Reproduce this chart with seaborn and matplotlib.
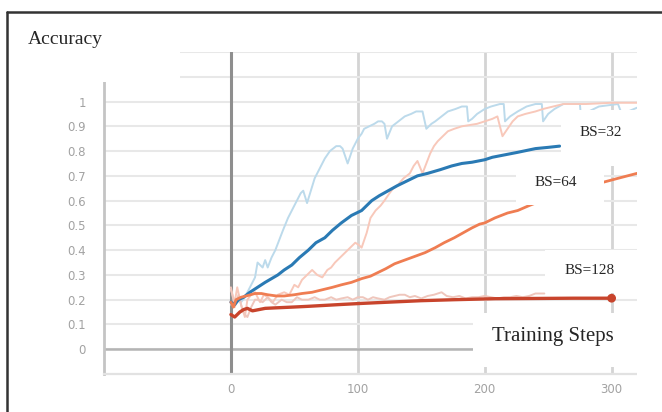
import numpy as np
import seaborn as sns
import matplotlib.pyplot as plt
from matplotlib.patches import Rectangle
from matplotlib.lines import Line2D

# Data (training step, accuracy)
raw32_steps = [0, 4, 8, 11, 15, 19, 21, 25, 27, 29, 32, 35, 38, 41, 45, 48, 52, 55, 57, 60,
               63, 66, 70, 74, 78, 83, 86, 88, 92, 96, 100, 103, 105, 109, 113, 116, 119, 121,
               123, 127, 132, 137, 142, 146, 151, 154, 158, 161, 166, 171, 177, 182, 186, 187,
               190, 194, 200, 205, 212, 215, 216, 220, 226, 233, 240, 245, 246, 250, 255, 262,
               275, 276, 282, 290, 305, 308, 313, 320]
raw32_vals = [0.18, 0.20, 0.19, 0.21, 0.25, 0.29, 0.35, 0.33, 0.36, 0.33, 0.37, 0.40, 0.44,
              0.48, 0.53, 0.56, 0.60, 0.63, 0.64, 0.59, 0.64, 0.69, 0.73, 0.77, 0.80, 0.82,
              0.82, 0.81, 0.75, 0.81, 0.85, 0.87, 0.89, 0.90, 0.91, 0.92, 0.92, 0.91, 0.85,
              0.90, 0.92, 0.94, 0.95, 0.96, 0.96, 0.89, 0.91, 0.92, 0.94, 0.96, 0.97, 0.98,
              0.98, 0.92, 0.93, 0.95, 0.97, 0.98, 0.99, 0.99, 0.92, 0.94, 0.96, 0.98, 0.99,
              0.99, 0.92, 0.95, 0.97, 0.99, 0.99, 0.93, 0.96, 0.98, 0.99, 0.95, 0.96, 0.975]

raw64_steps = [0, 3, 5, 8, 11, 13, 16, 19, 23, 26, 29, 33, 37, 42, 46, 50, 53, 56, 60, 64,
               68, 72, 76, 79, 82, 86, 90, 94, 98, 101, 103, 105, 107, 110, 114, 118, 121,
               125, 128, 131, 136, 141, 144, 147, 151, 154, 157, 160, 163, 167, 171, 176,
               182, 188, 194, 200, 206, 210, 214, 218, 222, 226, 232, 240, 246, 254, 262,
               280, 300, 320]
raw64_vals = [0.24, 0.19, 0.25, 0.18, 0.13, 0.20, 0.22, 0.23, 0.19, 0.22, 0.21, 0.19, 0.22,
              0.23, 0.22, 0.26, 0.25, 0.28, 0.30, 0.32, 0.30, 0.29, 0.32, 0.33, 0.35, 0.37,
              0.39, 0.41, 0.43, 0.42, 0.41, 0.44, 0.47, 0.53, 0.56, 0.58, 0.60, 0.63, 0.65,
              0.66, 0.69, 0.71, 0.74, 0.76, 0.71, 0.75, 0.79, 0.82, 0.84, 0.86, 0.88, 0.89,
              0.90, 0.905, 0.91, 0.92, 0.93, 0.94, 0.86, 0.89, 0.92, 0.94, 0.95, 0.96, 0.97,
              0.98, 0.99, 0.99, 0.995, 0.995]

raw128_steps = [0, 3, 6, 9, 11, 13, 16, 19, 21, 25, 29, 32, 35, 40, 44, 48, 52, 56, 61, 66,
                70, 74, 79, 83, 87, 92, 96, 100, 104, 108, 112, 116, 121, 125, 129, 133, 137,
                141, 145, 150, 155, 160, 166, 170, 175, 180, 185, 190, 195, 200, 205, 210,
                215, 220, 225, 230, 235, 240, 247]
raw128_vals = [0.25, 0.17, 0.22, 0.16, 0.14, 0.13, 0.17, 0.20, 0.20, 0.19, 0.21, 0.19, 0.18,
               0.20, 0.19, 0.19, 0.21, 0.20, 0.20, 0.21, 0.20, 0.20, 0.21, 0.20, 0.205, 0.21,
               0.20, 0.21, 0.21, 0.20, 0.21, 0.205, 0.20, 0.21, 0.215, 0.22, 0.22, 0.21,
               0.215, 0.205, 0.215, 0.22, 0.23, 0.215, 0.21, 0.215, 0.205, 0.21, 0.21, 0.215,
               0.21, 0.205, 0.21, 0.21, 0.215, 0.21, 0.215, 0.225, 0.225]

bs32_steps = [0, 3, 6, 10, 15, 21, 27, 32, 37, 42, 48, 54, 61, 67, 74, 80, 87, 95, 103, 111,
              117, 124, 131, 139, 147, 155, 165, 174, 182, 190, 200, 206, 216, 226, 240, 250, 259]
bs32_vals = [0.19, 0.18, 0.20, 0.21, 0.23, 0.25, 0.27, 0.285, 0.30, 0.32, 0.34, 0.37, 0.40,
             0.43, 0.45, 0.48, 0.51, 0.54, 0.56, 0.60, 0.62, 0.64, 0.66, 0.68, 0.70, 0.71,
             0.725, 0.74, 0.75, 0.755, 0.765, 0.775, 0.785, 0.795, 0.81, 0.815, 0.82]

bs64_steps = [0, 2, 4, 8, 12, 19, 24, 29, 36, 42, 50, 56, 64, 72, 80, 87, 95, 103, 110, 116,
              122, 129, 137, 145, 153, 161, 168, 176, 183, 190, 196, 200, 208, 218, 226, 235,
              250, 265, 280, 294, 305, 320]
bs64_vals = [0.19, 0.17, 0.20, 0.21, 0.215, 0.225, 0.225, 0.22, 0.215, 0.215, 0.22, 0.225,
             0.23, 0.24, 0.25, 0.26, 0.27, 0.285, 0.295, 0.31, 0.325, 0.345, 0.36, 0.375,
             0.39, 0.41, 0.43, 0.45, 0.47, 0.49, 0.505, 0.51, 0.53, 0.55, 0.56, 0.58, 0.61,
             0.635, 0.655, 0.675, 0.69, 0.71]

bs128_steps = [0, 3, 7, 10, 13, 17, 22, 27, 35, 48, 60, 74, 88, 103, 124, 150, 176, 208, 240,
               270, 300]
bs128_vals = [0.14, 0.13, 0.15, 0.16, 0.165, 0.155, 0.16, 0.165, 0.167, 0.17, 0.173, 0.177,
              0.181, 0.185, 0.19, 0.196, 0.2, 0.204, 0.205, 0.206, 0.206]

x_ticks = [0, 100, 200, 300]
x_tick_labels = ["0", "100", "200", "300"]
y_ticks = [0, 0.1, 0.2, 0.3, 0.4, 0.5, 0.6, 0.7, 0.8, 0.9, 1.0, 1.1, 1.2]
y_tick_labels = ["0", "0.1", "0.2", "0.3", "0.4", "0.5", "0.6", "0.7", "0.8", "0.9", "1",
                 "1.1", "1.2"]

W, H = 662, 412


def px_rect(x0, y0, x1, y1):
    # pixel box (top-left origin) -> figure fraction rectangle
    return (x0 / W, 1 - y1 / H), (x1 - x0) / W, (y1 - y0) / H


sns.set_style("white")
fig = plt.figure(figsize=(W / 100, H / 100), dpi=100)
ax = fig.add_axes([104 / W, 1 - 374 / H, (637 - 104) / W, (374 - 52) / H])
ax.set_xlim(-100, 320)
ax.set_ylim(-0.1, 1.2)

# grid
ax.set_yticks(y_ticks)
ax.set_yticklabels(y_tick_labels)
ax.set_xticks(x_ticks)
ax.set_xticklabels(x_tick_labels)
ax.grid(axis="y", color="#e8e8e8", lw=1.5, zorder=0)
ax.grid(axis="x", color="#d4d4d4", lw=2, zorder=0)
ax.axhline(0, color="#b4b4b4", lw=1.8, zorder=1)
ax.axvline(0, color="#8e8e8e", lw=2.2, zorder=1)
ax.set_axisbelow(True)

for s in ["top", "right"]:
    ax.spines[s].set_visible(False)
ax.spines["left"].set_color("#c4c4c4")
ax.spines["left"].set_linewidth(2)
ax.spines["bottom"].set_color("#e2e2e2")
ax.spines["bottom"].set_linewidth(1.6)

ax.tick_params(axis="y", length=7, width=1.5, color="#e2e2e2", pad=6,
               labelsize=8.5, labelcolor="#a2a2a2")
ax.tick_params(axis="x", length=2.5, width=2, color="#d4d4d4", pad=4,
               labelsize=8.5, labelcolor="#a2a2a2")

# raw (unsmoothed) curves
sns.lineplot(x=raw32_steps, y=raw32_vals, ax=ax, color="#bcdaeb", lw=1.4, zorder=2)
sns.lineplot(x=raw64_steps, y=raw64_vals, ax=ax, color="#f8c8ba", lw=1.4, zorder=2)
sns.lineplot(x=raw128_steps, y=raw128_vals, ax=ax, color="#efc6bc", lw=1.4, zorder=2)

# smoothed curves
sns.lineplot(x=bs32_steps, y=bs32_vals, ax=ax, color="#2a7ab4", lw=2.2, zorder=3)
sns.lineplot(x=bs64_steps, y=bs64_vals, ax=ax, color="#ef7d52", lw=2.0, zorder=3)
sns.lineplot(x=bs128_steps, y=bs128_vals, ax=ax, color="#c8442c", lw=2.4, zorder=3)
sns.scatterplot(x=bs128_steps[-1:], y=bs128_vals[-1:], ax=ax, color="#c8442c",
                s=40, edgecolor="none", zorder=4)
ax.set_xlabel("")
ax.set_ylabel("")

# white label boxes pasted over the chart
boxes = [(7, 14, 180, 82), (561, 110, 662, 166), (516, 167, 604, 205),
         (545, 250, 662, 293), (473, 313, 662, 367), (637, 14, 662, 412)]
for b in boxes:
    xy, w, h = px_rect(*b)
    fig.patches.append(Rectangle(xy, w, h, transform=fig.transFigure,
                                 facecolor="white", edgecolor="none", zorder=5))

serif = "Liberation Serif"
fig.text(65 / W, 1 - 40 / H, "Accuracy", family=serif, fontsize=14,
         ha="center", va="center", zorder=6)
fig.text(601 / W, 1 - 132 / H, "BS=32", family=serif, fontsize=11,
         ha="center", va="center", zorder=6)
fig.text(556 / W, 1 - 183 / H, "BS=64", family=serif, fontsize=11,
         ha="center", va="center", zorder=6)
fig.text(590 / W, 1 - 271 / H, "BS=128", family=serif, fontsize=11,
         ha="center", va="center", zorder=6)
fig.text(553 / W, 1 - 337 / H, "Training Steps", family=serif, fontsize=15,
         ha="center", va="center", zorder=6)

# outer frame of the screenshot
fig.lines.append(Line2D([7 / W, 1], [1 - 12 / H, 1 - 12 / H], transform=fig.transFigure,
                        color="#333333", lw=1.8, zorder=7))
fig.lines.append(Line2D([7 / W, 7 / W], [0, 1 - 12 / H], transform=fig.transFigure,
                        color="#333333", lw=1.8, zorder=7))

fig.savefig("out.png", dpi=100)
